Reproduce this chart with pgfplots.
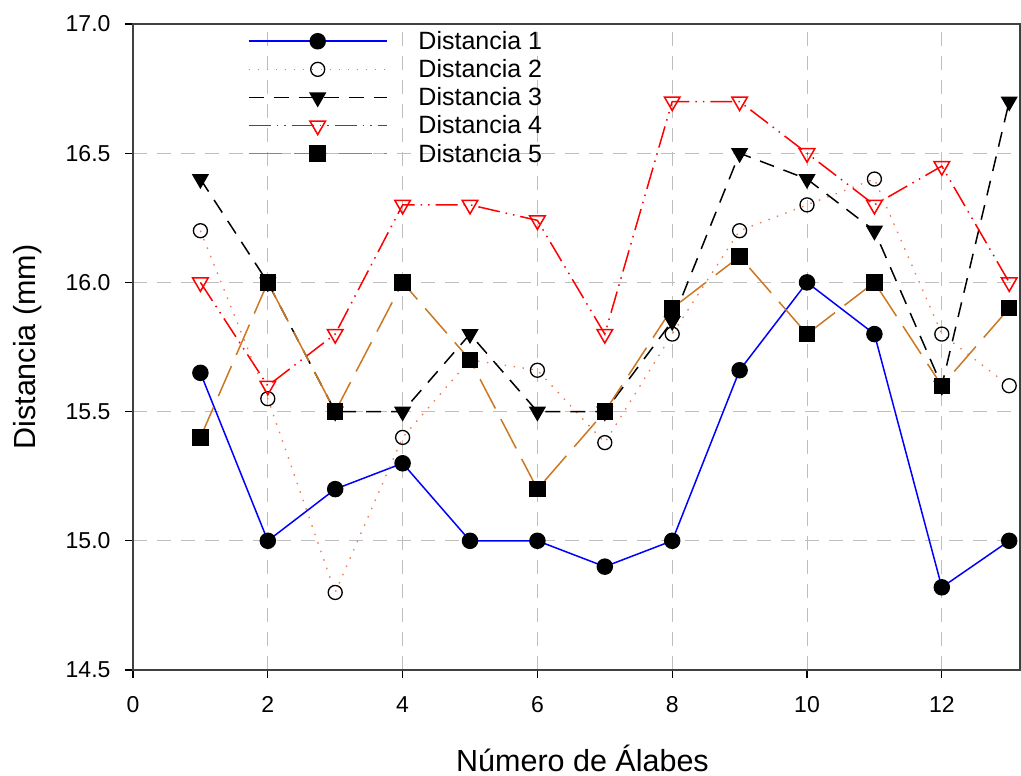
\documentclass[border=0pt]{standalone}
\usepackage{fontspec}
\setmainfont{Liberation Sans}
\usepackage{pgfplots}
\pgfplotsset{compat=1.18}
\definecolor{dtwo}{RGB}{240,120,80}
\definecolor{dfive}{RGB}{204,119,34}
\definecolor{gridgray}{RGB}{190,190,190}
\pgfplotsset{
  legfour/.style={legend image code/.code={%
    \draw[red, line width=1.5pt, dash pattern=on 22pt off 6pt on 1.5pt off 6pt on 1.5pt off 6pt] (0pt,0pt) -- (138pt,0pt);
    \draw[mark repeat=2,mark phase=2,##1,draw=none] plot coordinates {(0pt,0pt) (69pt,0pt) (138pt,0pt)};}},
  legfive/.style={legend image code/.code={%
    \draw[dfive, line width=1.5pt, dash pattern=on 33pt off 12pt] (0pt,0pt) -- (138pt,0pt);
    \draw[mark repeat=2,mark phase=2,##1,draw=none] plot coordinates {(0pt,0pt) (69pt,0pt) (138pt,0pt)};}},
}
\begin{document}
\begin{tikzpicture}
\begin{axis}[name=ax, scale only axis, width=887pt, height=646pt,
  xmin=0, xmax=13.16, ymin=14.5, ymax=17,
  xtick={0,2,...,12}, ytick={14.5,15,...,17},
  /pgf/number format/assume math mode=true,
  tick align=outside, major tick length=8pt, xtick pos=bottom, ytick pos=left,
  axis line style={line width=1.5pt, black!75},
  tick style={line width=1.2pt, black},
  grid=major, major grid style={gridgray, dash pattern=on 14pt off 10pt, line width=1pt},
  ticklabel style={font=\fontsize{23}{27}\selectfont},
  xticklabel style={yshift=-15pt},
  yticklabel style={/pgf/number format/fixed, /pgf/number format/fixed zerofill, /pgf/number format/precision=1, xshift=-11pt},
  every axis x label/.style={at={(axis description cs:0.5,0)}, yshift=-88pt, xshift=6pt, anchor=center, font=\fontsize{30.5}{36}\selectfont},
  every axis y label/.style={at={(axis description cs:0,0.5)}, xshift=-105pt, rotate=90, anchor=center, font=\fontsize{30.5}{36}\selectfont},
  xlabel={Número de Álabes}, ylabel={Distancia (mm)},
  legend style={at={(0.126,0.995)}, anchor=north west, draw=none, fill=none,
    font=\fontsize{25}{28}\selectfont, cells={anchor=west}, row sep=4.5pt, column sep=29pt},
  legend image code/.code={\draw[mark repeat=2,mark phase=2,#1] plot coordinates {(0pt,0pt) (69pt,0pt) (138pt,0pt)};},
]
\addplot[color=blue, line width=1.5pt, mark=*, mark size=7.5pt, mark options={fill=black, draw=black, solid}]
 coordinates {(1,15.65)(2,15.0)(3,15.2)(4,15.3)(5,15.0)(6,15.0)(7,14.9)(8,15.0)(9,15.66)(10,16.0)(11,15.8)(12,14.82)(13,15.0)};
\addlegendentry{Distancia 1}
\addplot[color=dtwo, line width=1.3pt, dash pattern=on 1.5pt off 7.5pt, mark=o, mark size=7pt, mark options={draw=black, fill=white, solid, line width=1.3pt}]
 coordinates {(1,16.2)(2,15.55)(3,14.8)(4,15.4)(5,15.7)(6,15.66)(7,15.38)(8,15.8)(9,16.2)(10,16.3)(11,16.4)(12,15.8)(13,15.6)};
\addlegendentry{Distancia 2}
\addplot[color=black, line width=1.5pt, dash pattern=on 15pt off 10pt, mark=triangle*, mark size=8.5pt, mark options={fill=black, draw=black, solid, rotate=180}]
 coordinates {(1,16.4)(2,16.0)(3,15.5)(4,15.5)(5,15.8)(6,15.5)(7,15.5)(8,15.85)(9,16.5)(10,16.4)(11,16.2)(12,15.6)(13,16.7)};
\addlegendentry{Distancia 3}
\addplot[color=red, line width=1.5pt, dash pattern=on 22pt off 6pt on 1.5pt off 6pt on 1.5pt off 6pt, mark=triangle, mark size=9pt, mark options={draw=red, fill=white, solid, rotate=180, line width=1.5pt}, legfour]
 coordinates {(1,16.0)(2,15.6)(3,15.8)(4,16.3)(5,16.3)(6,16.24)(7,15.8)(8,16.7)(9,16.7)(10,16.5)(11,16.3)(12,16.45)(13,16.0)};
\addlegendentry{Distancia 4}
\addplot[color=dfive, line width=1.5pt, dash pattern=on 33pt off 12pt, mark=square*, mark size=7.5pt, mark options={fill=black, draw=black, solid}, legfive]
 coordinates {(1,15.4)(2,16.0)(3,15.5)(4,16.0)(5,15.7)(6,15.2)(7,15.5)(8,15.9)(9,16.1)(10,15.8)(11,16.0)(12,15.6)(13,15.9)};
\addlegendentry{Distancia 5}
\end{axis}
\pgfresetboundingbox
\path ([xshift=-133pt,yshift=-106pt]ax.south west) rectangle ([xshift=1pt,yshift=24pt]ax.north east);
\end{tikzpicture}
\end{document}
